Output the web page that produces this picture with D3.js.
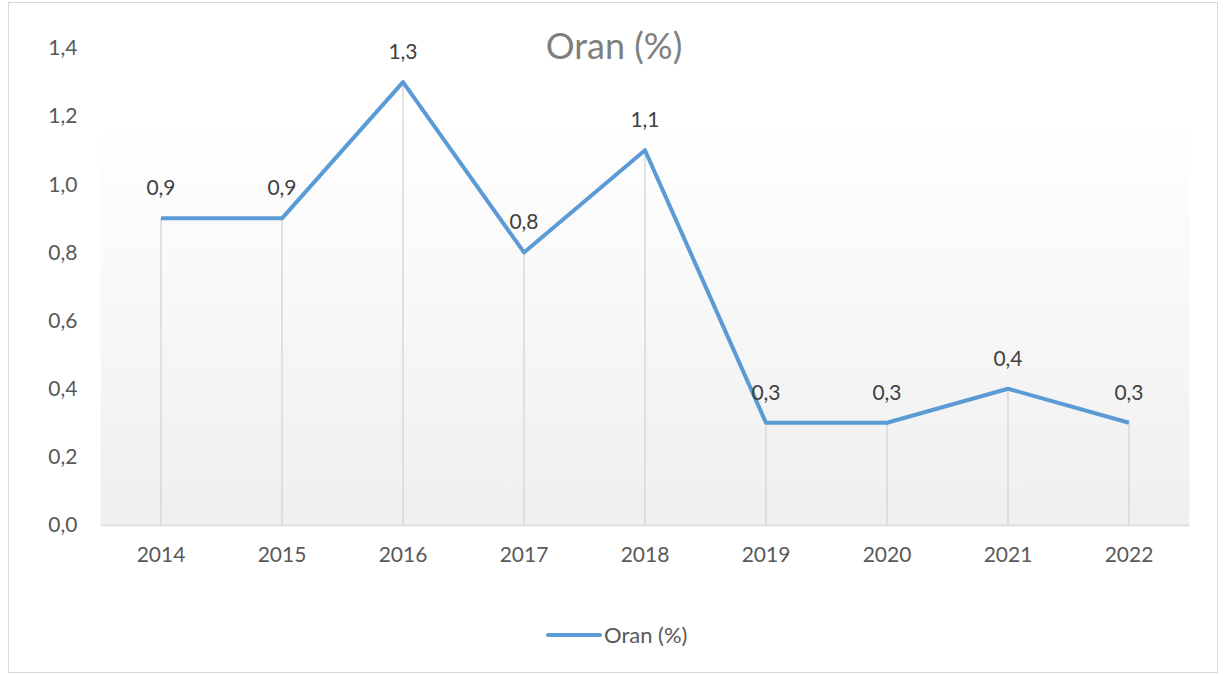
<!DOCTYPE html>
<html>
<head>
<meta charset="utf-8">
<script src="https://cdn.jsdelivr.net/npm/d3@7"></script>
<style>
  body { margin: 0; background: #fff; }
  text { font-family: Lato, "Open Sans", sans-serif; }
</style>
</head>
<body>
<script>
var years = ["2014", "2015", "2016", "2017", "2018", "2019", "2020", "2021", "2022"];
var oran = [0.9, 0.9, 1.3, 0.8, 1.1, 0.3, 0.3, 0.4, 0.3];
var yTicks = [0, 0.2, 0.4, 0.6, 0.8, 1.0, 1.2, 1.4];
var seriesName = "Oran (%)";

var width = 1223, height = 675;
var plot = {left: 100.5, right: 1189.5, top: 48, bottom: 525};
var blue = "#5b9bd5";

var fmt = function(v){ return d3.format(".1f")(v).replace(".", ","); };

var svg = d3.select("body")
    .append("svg")
    .attr("width", width)
    .attr("height", height);

// chart border
svg.append("rect")
    .attr("x", 8.5).attr("y", 2.5)
    .attr("width", 1209).attr("height", 670)
    .attr("fill", "#fff")
    .attr("stroke", "#d9d9d9");

var x = d3.scaleBand().domain(years).range([plot.left, plot.right]);
var y = d3.scaleLinear().domain([0, 1.4]).range([plot.bottom, plot.top]);

var grad = svg.append("defs").append("linearGradient")
    .attr("id", "bg").attr("x1", 0).attr("y1", 0).attr("x2", 0).attr("y2", 1);
grad.append("stop").attr("offset", "0%").attr("stop-color", "#ffffff");
grad.append("stop").attr("offset", "15%").attr("stop-color", "#ffffff");
grad.append("stop").attr("offset", "100%").attr("stop-color", "#efefef");

svg.append("rect")
    .attr("x", plot.left).attr("y", plot.top)
    .attr("width", plot.right - plot.left)
    .attr("height", plot.bottom - plot.top)
    .attr("fill", "url(#bg)");

// title
svg.append("text")
    .attr("x", 614).attr("y", 59)
    .attr("text-anchor", "middle")
    .attr("font-size", 36)
    .attr("fill", "#7f7f7f")
    .text(seriesName);

// drop lines
svg.append("g").selectAll("line")
    .data(oran)
    .join("line")
    .attr("x1", function(d, i){ return x(years[i]) + x.bandwidth()/2; })
    .attr("x2", function(d, i){ return x(years[i]) + x.bandwidth()/2; })
    .attr("y1", function(d){ return y(d); })
    .attr("y2", y(0))
    .attr("stroke", "#d9d9d9")
    .attr("stroke-width", 1.5);

// x axis
var xAxis = svg.append("g")
    .attr("transform", "translate(0," + y(0) + ")")
    .call(d3.axisBottom(x).tickSize(0).tickPadding(22));
xAxis.select(".domain").attr("stroke", "#d9d9d9").attr("stroke-width", 1.5);
xAxis.selectAll("text").attr("font-size", 21).attr("fill", "#595959");

// y axis
var yAxis = svg.append("g")
    .attr("transform", "translate(" + plot.left + ",0)")
    .call(d3.axisLeft(y).tickValues(yTicks).tickFormat(fmt).tickSize(0).tickPadding(23));
yAxis.select(".domain").remove();
yAxis.selectAll("text").attr("font-size", 21).attr("fill", "#595959");

// line
var line = d3.line()
    .x(function(d, i){ return x(years[i]) + x.bandwidth()/2; })
    .y(function(d){ return y(d); });

svg.append("path")
    .datum(oran)
    .attr("d", line)
    .attr("fill", "none")
    .attr("stroke", blue)
    .attr("stroke-width", 4)
    .attr("stroke-linejoin", "round");

// data labels
svg.append("g").selectAll("text")
    .data(oran)
    .join("text")
    .attr("x", function(d, i){ return x(years[i]) + x.bandwidth()/2; })
    .attr("y", function(d){ return y(d) - 23; })
    .attr("text-anchor", "middle")
    .attr("font-size", 21)
    .attr("fill", "#404040")
    .text(fmt);

// legend
svg.append("line")
    .attr("x1", 548).attr("x2", 600)
    .attr("y1", 635).attr("y2", 635)
    .attr("stroke", blue)
    .attr("stroke-width", 4)
    .attr("stroke-linecap", "round");
svg.append("text")
    .attr("x", 604).attr("y", 643)
    .attr("font-size", 22)
    .attr("fill", "#595959")
    .text(seriesName);
</script>
</body>
</html>
